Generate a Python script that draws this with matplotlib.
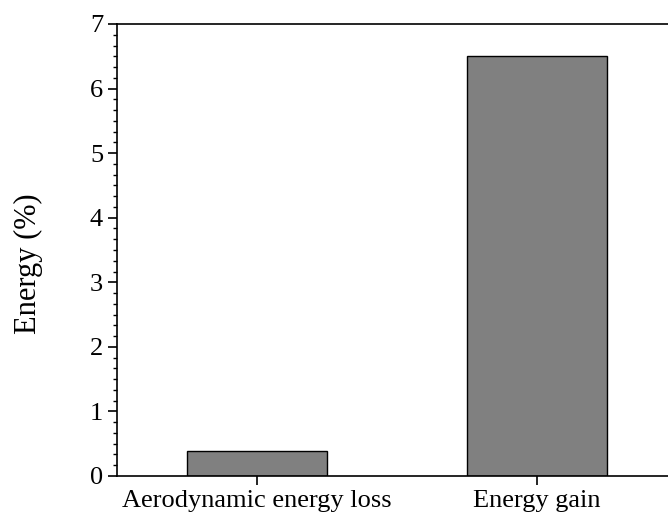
import matplotlib
matplotlib.use("Agg")
import matplotlib.pyplot as plt
from matplotlib.ticker import AutoMinorLocator

# --- DATA ---
categories = ["Aerodynamic energy loss", "Energy gain"]
energy = [0.38, 6.5]

plt.rcParams['font.family'] = ['Liberation Serif', 'DejaVu Serif']

fig = plt.figure(figsize=(6.68, 5.16), dpi=100)
ax = fig.add_axes([117 / 668, 1 - 476 / 516, 560 / 668, 452 / 516])

x = list(range(len(categories)))
ax.bar(x, energy, width=0.5, color='#808080', edgecolor='black', linewidth=1.0)

ax.set_xlim(-0.5, 1.5)
ax.set_ylim(0, 7)
ax.set_xticks(x)
ax.set_xticklabels(categories)
ax.yaxis.set_minor_locator(AutoMinorLocator(6))

ax.tick_params(axis='both', which='major', direction='out', length=6.5, width=1.2,
               labelsize=19)
ax.tick_params(axis='y', which='minor', direction='out', length=3.2, width=1.0)
ax.set_ylabel("Energy (%)", fontsize=22)
ax.yaxis.set_label_coords(-0.132, 0.469)

ax.spines['right'].set_visible(False)
for s in ['left', 'top', 'bottom']:
    ax.spines[s].set_linewidth(1.2)

fig.savefig("out.png", dpi=100)
